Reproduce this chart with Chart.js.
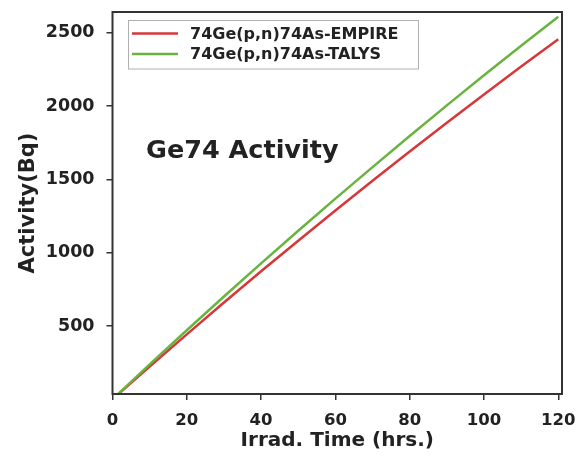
<!DOCTYPE html>
<html>
<head>
<meta charset="utf-8">
<script src="https://cdn.jsdelivr.net/npm/chart.js@4/dist/chart.umd.min.js"></script>
<style>
  html, body { margin: 0; padding: 0; background: #fff; }
  #wrap { width: 587px; height: 456px; }
</style>
</head>
<body>
<div id="wrap"><canvas id="activity"></canvas></div>
<script>
// Irradiation time (hrs.)
const hours = [0, 10, 20, 30, 40, 50, 60, 70, 80, 90, 100, 110, 120];
// Activity (Bq)
const empire = [0, 224, 443, 660, 873, 1082, 1288, 1491, 1690, 1887, 2080, 2270, 2456];
const talys = [0, 238, 471, 701, 927, 1150, 1369, 1584, 1796, 2005, 2210, 2412, 2610];
const seriesNames = ['74Ge(p,n)74As-EMPIRE', '74Ge(p,n)74As-TALYS'];
const xTicks = [0, 20, 40, 60, 80, 100, 120];
const yTicks = [500, 1000, 1500, 2000, 2500];

const FONT = 'DejaVu Sans';
const INK = '#222';

// frame round the plot, plus legend box and the inner title
const decorations = {
  id: 'decorations',
  afterDraw(chart) {
    const { ctx, chartArea: a } = chart;
    ctx.save();
    ctx.strokeStyle = '#333';
    ctx.lineWidth = 2;
    ctx.strokeRect(a.left, a.top, a.right - a.left, a.bottom - a.top);

    // legend
    ctx.strokeStyle = '#b0b0b0';
    ctx.lineWidth = 1;
    ctx.strokeRect(128.5, 20.5, 290, 48.5);
    ctx.font = 'bold 16px ' + FONT;
    ctx.textBaseline = 'middle';
    chart.data.datasets.forEach((ds, i) => {
      const y = 33.5 + i * 20.6;
      ctx.strokeStyle = ds.borderColor;
      ctx.lineWidth = 2.5;
      ctx.beginPath();
      ctx.moveTo(132, y);
      ctx.lineTo(178, y);
      ctx.stroke();
      ctx.fillStyle = INK;
      ctx.fillText(ds.label, 190, y + 1);
    });

    ctx.font = 'bold 25.5px ' + FONT;
    ctx.textBaseline = 'alphabetic';
    ctx.fillStyle = INK;
    ctx.fillText('Ge74 Activity', 146, 158);
    ctx.restore();
  }
};

new Chart(document.getElementById('activity'), {
  type: 'line',
  data: {
    datasets: [
      {
        label: seriesNames[0],
        data: hours.map((h, i) => ({ x: h, y: empire[i] })),
        borderColor: '#d8373a',
        borderWidth: 2.5,
        pointRadius: 0,
        order: 2
      },
      {
        label: seriesNames[1],
        data: hours.map((h, i) => ({ x: h, y: talys[i] })),
        borderColor: '#68b43e',
        borderWidth: 2.5,
        pointRadius: 0,
        order: 1
      }
    ]
  },
  options: {
    responsive: true,
    maintainAspectRatio: false,
    animation: false,
    layout: { padding: { top: 12, right: 25, left: 0, bottom: 0 } },
    plugins: {
      legend: { display: false },
      tooltip: { enabled: false }
    },
    scales: {
      x: {
        type: 'linear',
        min: 0,
        max: 121,
        afterBuildTicks: s => { s.ticks = xTicks.map(v => ({ value: v })); },
        afterFit: s => { s.height = 62; s.paddingLeft = 0; s.paddingRight = 0; },
        border: { display: false },
        grid: { drawOnChartArea: false, tickLength: 6, color: '#333', lineWidth: 1.5 },
        ticks: {
          color: INK, padding: 11, maxRotation: 0,
          callback: v => String(v),
          font: { family: FONT, size: 16.5, weight: 'bold' }
        },
        title: {
          display: true,
          text: 'Irrad. Time (hrs.)',
          color: INK,
          padding: { top: 0, bottom: 3 },
          font: { family: FONT, size: 20, weight: 'bold' }
        }
      },
      y: {
        min: 36,
        max: 2642,
        afterBuildTicks: s => { s.ticks = yTicks.map(v => ({ value: v })); },
        afterFit: s => { s.width = 112.5; s.paddingTop = 0; s.paddingBottom = 0; },
        border: { display: false },
        grid: { drawOnChartArea: false, tickLength: 6, color: '#333', lineWidth: 1.5 },
        ticks: {
          color: INK, padding: 12,
          callback: v => String(v),
          font: { family: FONT, size: 17.5, weight: 'bold' }
        },
        title: {
          display: true,
          text: 'Activity(Bq)',
          color: INK,
          padding: { top: 16, bottom: 0 },
          font: { family: FONT, size: 21, weight: 'bold' }
        }
      }
    }
  },
  plugins: [decorations]
});
</script>
</body>
</html>
